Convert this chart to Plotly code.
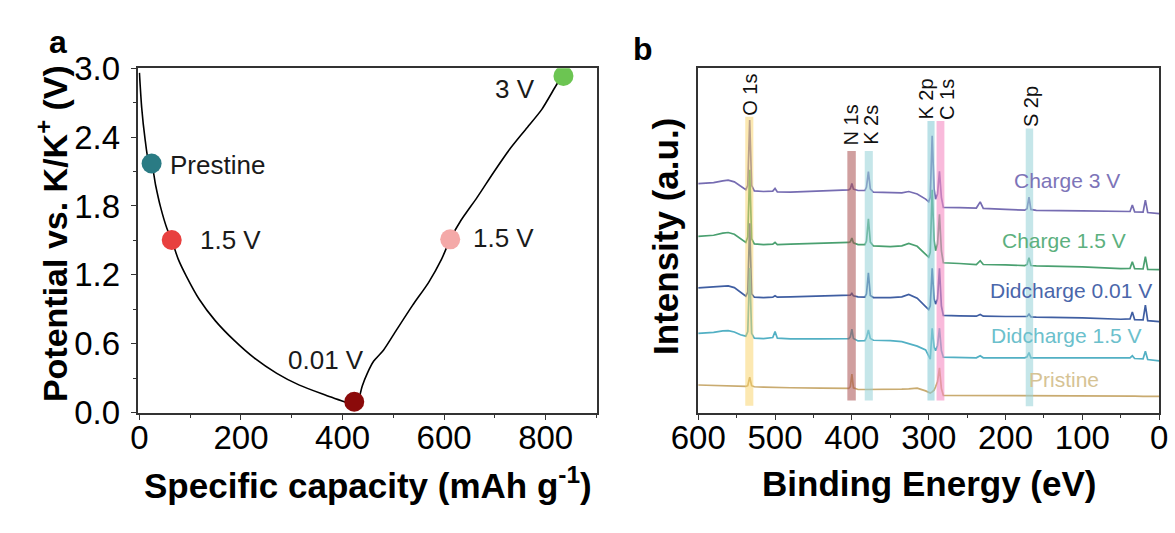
import plotly.graph_objects as go

# ---------------- Panel a: charge / discharge profile ----------------
discharge_capacity = [0, 4.5, 10.8, 17.8, 24, 31.8, 41.4, 54, 63.6, 76.4, 92.3, 117.7, 149.6,
                      187.7, 226, 270.5, 315, 366, 417]
discharge_voltage = [2.96, 2.655, 2.394, 2.198, 2.168, 1.983, 1.794, 1.606, 1.504, 1.337, 1.189,
                     0.987, 0.799, 0.624, 0.476, 0.342, 0.239, 0.153, 0.073]
charge_capacity = [432.8, 439, 448.7, 461.4, 480.5, 506, 537.8, 569.6, 595, 612, 633, 665, 697,
                   728.7, 760.5, 792.4, 817.8, 830.5]
charge_voltage = [0.126, 0.234, 0.342, 0.449, 0.543, 0.718, 0.934, 1.135, 1.337, 1.509, 1.673,
                  1.875, 2.09, 2.292, 2.467, 2.642, 2.83, 2.924]

state_labels = ["Prestine", "1.5 V", "0.01 V", "1.5 V", "3 V"]
state_capacity = [24, 63.6, 423, 612, 835]
state_voltage = [2.17, 1.504, 0.094, 1.509, 2.932]
state_colors = ["#2a7b84", "#e8403f", "#8b0a0a", "#f4a9a8", "#6cc552"]
label_capacity = [57, 115, 368, 652, 740]
label_voltage = [2.16, 1.50, 0.46, 1.525, 2.82]
label_anchor = ["left", "left", "center", "left", "center"]

# ---------------- Panel b: XPS survey spectra ----------------
binding_energy = [600, 580, 568, 561, 553, 545, 538, 535.5, 533, 530.5, 527, 515, 503, 500, 497,
                  480, 440, 404, 402, 400, 398, 392, 383, 381, 378.5, 376, 372, 350, 335, 326,
                  315, 304, 300, 298, 295.5, 293, 291, 288.5, 286, 283.5, 281, 260, 238, 233,
                  229, 200, 175, 172, 169.5, 167, 160, 100, 50, 38, 35, 32, 21, 18, 15, 0]

int_charge_3v = [66.5, 66.8, 67.3, 67.5, 67.0, 65.8, 64.7, 66.0, 85.0, 66.0, 64.4, 64.2, 64.3,
                 65.1, 64.1, 64.0, 64.3, 64.7, 65.0, 66.5, 64.9, 64.5, 64.5, 65.5, 70.0, 65.0,
                 64.0, 63.8, 63.8, 64.2, 63.5, 62.0, 61.2, 62.5, 80.4, 65.0, 62.0, 63.5, 70.1,
                 62.5, 59.6, 59.5, 59.4, 61.2, 59.3, 59.0, 58.8, 59.2, 62.6, 59.0, 58.7, 58.6,
                 58.3, 58.4, 60.3, 58.3, 58.2, 61.7, 58.1, 57.8]
int_charge_15v = [51.2, 51.5, 52.1, 52.3, 51.8, 50.5, 49.4, 51.0, 70.5, 50.5, 49.0, 48.8, 48.9,
                  49.4, 48.8, 48.9, 49.1, 49.4, 49.6, 50.7, 49.3, 48.8, 48.8, 49.8, 56.3, 49.5,
                  48.4, 48.2, 48.4, 49.1, 48.3, 46.0, 45.1, 46.5, 64.7, 50.0, 47.0, 49.0, 57.6,
                  47.0, 43.5, 43.3, 43.0, 44.1, 43.0, 42.9, 42.7, 43.0, 45.0, 42.7, 42.6, 42.3,
                  41.8, 41.9, 43.8, 41.8, 41.7, 45.3, 41.6, 41.5]
int_discharge_001v = [36.2, 36.4, 36.7, 36.8, 36.3, 34.9, 33.8, 35.0, 55.0, 34.5, 33.5, 33.4,
                      33.5, 33.9, 33.5, 33.6, 33.8, 34.0, 34.1, 34.6, 33.9, 33.6, 33.5, 34.5,
                      40.6, 34.0, 33.4, 33.4, 33.6, 34.3, 33.2, 30.8, 29.9, 31.0, 41.9, 33.0,
                      31.5, 33.0, 41.9, 31.0, 28.2, 28.1, 28.0, 28.5, 28.0, 27.9, 27.8, 27.9,
                      28.6, 27.8, 27.7, 27.5, 27.1, 27.2, 29.2, 27.0, 26.9, 31.2, 26.7, 26.4]
int_discharge_15v = [23.0, 23.3, 23.7, 23.8, 23.4, 22.6, 22.2, 23.5, 42.0, 23.0, 21.6, 21.5,
                     21.8, 23.5, 21.6, 21.4, 21.4, 21.5, 22.0, 24.2, 21.5, 20.8, 20.9, 21.8,
                     24.0, 21.5, 21.0, 20.9, 20.6, 20.0, 19.3, 18.2, 16.5, 15.5, 24.5, 19.0,
                     18.0, 19.5, 24.5, 18.0, 16.1, 16.0, 15.9, 16.5, 15.9, 15.9, 15.9, 16.2,
                     17.4, 15.9, 15.9, 15.8, 15.8, 15.9, 16.5, 15.7, 15.6, 17.8, 15.4, 15.0]
int_pristine = [8.0, 7.9, 7.8, 7.8, 7.7, 7.6, 7.6, 7.8, 10.3, 7.8, 7.5, 7.4, 7.3, 7.3, 7.3, 7.2,
                7.1, 7.0, 7.5, 11.2, 7.2, 6.7, 6.7, 6.7, 6.6, 6.6, 6.6, 6.7, 6.8, 6.9, 7.1, 6.3,
                5.9, 5.7, 6.0, 6.5, 7.5, 9.0, 13.0, 7.0, 5.0, 5.0, 5.0, 5.0, 4.9, 4.9, 4.9, 4.9,
                4.9, 4.9, 4.9, 4.8, 4.8, 4.8, 4.8, 4.8, 4.7, 4.7, 4.7, 4.7]

spectrum_names = ["Charge 3 V", "Charge 1.5 V", "Didcharge 0.01 V", "Didcharge 1.5 V", "Pristine"]
spectrum_values = [int_charge_3v, int_charge_15v, int_discharge_001v, int_discharge_15v, int_pristine]
spectrum_colors = ["#766cb2", "#4aa070", "#3f5ea2", "#52b0c4", "#c9ab70"]
spectrum_label_colors = ["#7d74b8", "#5cb07e", "#4a66aa", "#6cc0cc", "#d6c394"]
spectrum_label_be = [119.5, 124, 114.4, 120.8, 123.7]
spectrum_label_int = [67.5, 49.9, 35.4, 22.4, 9.5]

peak_names = ["O 1s", "N 1s", "K 2s", "K 2p", "C 1s", "S 2p"]
peak_center = [533.5, 400.4, 378, 297, 284.7, 168.9]
peak_width = [10.5, 11, 10.5, 9.3, 10.2, 9.7]
peak_band_top = [85.9, 76.0, 76.0, 84.7, 84.7, 82.5]
peak_band_bottom = [2.0, 3.5, 3.5, 3.5, 3.5, 1.8]
peak_band_colors = ["rgba(250,210,100,0.5)", "rgba(170,80,80,0.55)", "rgba(150,210,215,0.55)",
                    "rgba(140,205,215,0.6)", "rgba(245,140,195,0.6)", "rgba(150,210,215,0.55)"]
peak_label_be = [533, 401.5, 375, 304, 277, 166.5]
peak_label_int = [92.2, 83.6, 83.6, 91.1, 90.9, 88.8]

W, H = 1175, 533
FONT = "Liberation Sans, Arial, sans-serif"
AX = "#333333"

fig = go.Figure()

fig.add_trace(go.Scatter(x=discharge_capacity, y=discharge_voltage, mode="lines",
                         line=dict(color="black", width=1.6, shape="spline", smoothing=0.7),
                         xaxis="x", yaxis="y", showlegend=False, hoverinfo="skip"))
fig.add_trace(go.Scatter(x=charge_capacity, y=charge_voltage, mode="lines",
                         line=dict(color="black", width=1.6, shape="spline", smoothing=0.7),
                         xaxis="x", yaxis="y", showlegend=False, hoverinfo="skip"))
fig.add_trace(go.Scatter(x=state_capacity, y=state_voltage, mode="markers",
                         marker=dict(color=state_colors, size=20, line=dict(width=0)),
                         xaxis="x", yaxis="y", showlegend=False, hoverinfo="skip"))

for name, vals, col in zip(spectrum_names, spectrum_values, spectrum_colors):
    fig.add_trace(go.Scatter(x=binding_energy, y=vals, mode="lines", name=name,
                             line=dict(color=col, width=1.7),
                             xaxis="x2", yaxis="y2", showlegend=False, hoverinfo="skip"))

annotations = []
for t, x, y, a in zip(state_labels, label_capacity, label_voltage, label_anchor):
    annotations.append(dict(text=t, x=x, y=y, xref="x", yref="y", xanchor=a, yanchor="middle",
                            showarrow=False, font=dict(family=FONT, size=26, color="#1a1a1a")))

for t, x, y, c in zip(spectrum_names, spectrum_label_be, spectrum_label_int, spectrum_label_colors):
    annotations.append(dict(text=t, x=x, y=y, xref="x2", yref="y2", xanchor="center",
                            yanchor="middle", showarrow=False,
                            font=dict(family=FONT, size=21, color=c)))

for t, x, y in zip(peak_names, peak_label_be, peak_label_int):
    annotations.append(dict(text=t, x=x, y=y, xref="x2", yref="y2", xanchor="center",
                            yanchor="middle", textangle=-90, showarrow=False,
                            font=dict(family=FONT, size=20, color="#111111")))

shapes = []
for c, w, top, bot, col in zip(peak_center, peak_width, peak_band_top, peak_band_bottom,
                               peak_band_colors):
    shapes.append(dict(type="rect", xref="x2", yref="y2", x0=c + w / 2, x1=c - w / 2,
                       y0=bot, y1=top, fillcolor=col, line=dict(width=0), layer="above"))

# axis titles and panel letters
xtitle_font = dict(family=FONT, size=35, color="black")
ytitle_font = dict(family=FONT, size=34, color="black")
annotations += [
    dict(text="<b>Specific capacity (mAh g<sup>-1</sup>)</b>", x=351 / W, y=1 - 500 / H,
         xref="paper", yref="paper", xanchor="center", yanchor="middle", showarrow=False,
         font=xtitle_font),
    dict(text="<b>Binding Energy (eV)</b>", x=930 / W, y=1 - 500 / H, xref="paper",
         yref="paper", xanchor="center", yanchor="middle", showarrow=False, font=xtitle_font),
    dict(text="<b>Potential vs. K/K<sup>+</sup> (V)</b>", x=25 / W, y=1 - 232 / H,
         xref="paper", yref="paper", xanchor="center", yanchor="middle", textangle=-90,
         showarrow=False, font=ytitle_font),
    dict(text="<b>Intensity (a.u.)</b>", x=658 / W, y=1 - 235 / H, xref="paper",
         yref="paper", xanchor="center", yanchor="middle", textangle=-90, showarrow=False,
         font=dict(family=FONT, size=35, color="black")),
    dict(text="<b>a</b>", x=31 / W, y=1 - 26 / H, xref="paper", yref="paper",
         xanchor="center", yanchor="middle", showarrow=False,
         font=dict(family=FONT, size=32, color="black")),
    dict(text="<b>b</b>", x=635 / W, y=1 - 33 / H, xref="paper", yref="paper",
         xanchor="center", yanchor="middle", showarrow=False,
         font=dict(family=FONT, size=32, color="black")),
]

tickfont = dict(family=FONT, size=33, color="black")
common = dict(showgrid=False, zeroline=False, showline=True, mirror=True, linecolor=AX,
              linewidth=1.5, ticks="outside", ticklen=6, tickwidth=1.3, tickcolor=AX,
              tickfont=tickfont, ticklabeloverflow="allow")

ydom = [1 - 424 / H, 1 - 54 / H]
fig.update_layout(
    width=W, height=H, margin=dict(l=0, r=0, t=0, b=0),
    paper_bgcolor="white", plot_bgcolor="white",
    xaxis=dict(domain=[114 / W, 588 / W], range=[-2, 902], tickvals=[0, 200, 400, 600, 800],
               minor=dict(dtick=100, tick0=0, ticks="outside", ticklen=4, tickcolor=AX),
               ticklabelstandoff=-11, anchor="y", **common),
    yaxis=dict(domain=ydom, range=[0, 3.0], tickvals=[0, 0.6, 1.2, 1.8, 2.4, 3.0],
               tickformat=".1f", minor=dict(dtick=0.3, tick0=0, ticks="outside", ticklen=4,
                                            tickcolor=AX),
               ticklabelstandoff=4, anchor="x", **common),
    xaxis2=dict(domain=[692 / W, 1168 / W], range=[600, 0],
                tickvals=[600, 500, 400, 300, 200, 100, 0],
                minor=dict(dtick=50, tick0=0, ticks="outside", ticklen=4, tickcolor=AX),
                ticklabelstandoff=-11, anchor="y2", **common),
    yaxis2=dict(domain=ydom, range=[0, 100], showgrid=False, zeroline=False, showline=True,
                mirror=True, linecolor=AX, linewidth=1.5, ticks="", showticklabels=False,
                anchor="x2"),
    annotations=annotations, shapes=shapes,
)

fig.write_html("out.html")
